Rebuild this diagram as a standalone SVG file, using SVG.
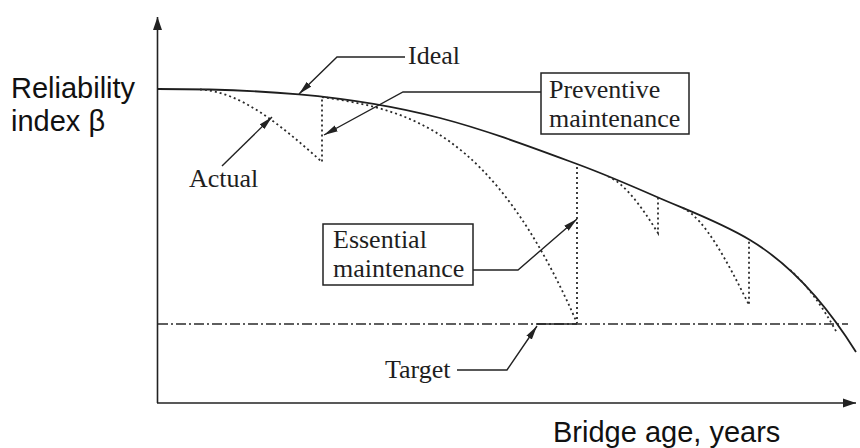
<svg xmlns="http://www.w3.org/2000/svg" width="860" height="448" viewBox="0 0 860 448">
  <style>
    .ser { font-family: "Liberation Serif", "Times New Roman", serif; font-size: 26px; fill: #1e1e1e; }
    .sans { font-family: "Liberation Sans", Arial, sans-serif; font-size: 29px; fill: #111; }
    .axis { stroke: #222; stroke-width: 1.6; fill: none; }
    .ideal { stroke: #1e1e1e; stroke-width: 1.8; fill: none; }
    .dot { stroke: #2a2a2a; stroke-width: 1.8; fill: none; stroke-dasharray: 2 3; }
    .target { stroke: #2a2a2a; stroke-width: 1.6; fill: none; stroke-dasharray: 10 3 2 3; }
    .lead { stroke: #222; stroke-width: 1.4; fill: none; }
    .box { stroke: #222; stroke-width: 1.5; fill: #fff; }
  </style>
  <defs>
    <marker id="ah" markerUnits="userSpaceOnUse" markerWidth="15" markerHeight="8" refX="14" refY="4" orient="auto">
      <path d="M0,0.7 L14,4 L0,7.3 Z" fill="#222"/>
    </marker>
    <marker id="axh" markerUnits="userSpaceOnUse" markerWidth="14" markerHeight="12" refX="13" refY="6" orient="auto">
      <path d="M0,1.5 L13,6 L0,10.5 Z" fill="#222"/>
    </marker>
  </defs>

  <g id="axes">
    <line class="axis" x1="157.5" y1="403" x2="157.5" y2="17" marker-end="url(#axh)"/>
    <line class="axis" x1="157" y1="403" x2="856" y2="403" marker-end="url(#axh)"/>
  </g>

  <g id="target-line">
    <line class="target" x1="158" y1="324" x2="848" y2="324"/>
  </g>

  <g id="ideal-curve">
    <path class="ideal" d="M158,89 C252,89 346,93.6 440,118 C485.7,129.9 531.3,147.1 577,164 C603.7,173.9 630.3,185.3 657,197 C688,210.6 719,221.4 750,240 C785.3,261.2 820.7,295.5 856,352"/>
  </g>

  <g id="actual-curve">
    <path class="dot" d="M200,89.5 C240.7,91.5 281.3,125.4 322,162 L322,97"/>
    <path class="dot" d="M322,97 C407,109.75 492,127.5 577,323 L577,164"/>
    <path class="dot" d="M608,176.5 C624.7,183.2 641.3,206.3 658,233 L658,197"/>
    <path class="dot" d="M683,208 C705,219 727,261 749,305 L749,240"/>
    <path class="dot" d="M790,270 C806,283.6 822,305.2 837,333"/>
  </g>

  <g id="connectors">
    <polyline class="lead" points="405,57 337,57 299,94" marker-end="url(#ah)"/>
    <polyline class="lead" points="541,92 403,92 324,135" marker-end="url(#ah)"/>
    <polyline class="lead" points="222,166 272,117" marker-end="url(#ah)"/>
    <polyline class="lead" points="473,270 518,270 577,219" marker-end="url(#ah)"/>
    <polyline class="lead" points="457,370 507,370 537,326" marker-end="url(#ah)"/>
    <line class="lead" x1="537" y1="324" x2="577" y2="324"/>
  </g>

  <g id="label-ideal">
    <text class="ser" x="408" y="64">Ideal</text>
  </g>
  <g id="label-actual">
    <text class="ser" x="189" y="187">Actual</text>
  </g>
  <g id="node-preventive">
    <rect class="box" x="541" y="73" width="148" height="61"/>
    <text class="ser" x="549" y="98">Preventive</text>
    <text class="ser" x="549" y="127">maintenance</text>
  </g>
  <g id="node-essential">
    <rect class="box" x="323" y="224" width="150" height="61"/>
    <text class="ser" x="333" y="248">Essential</text>
    <text class="ser" x="333" y="277">maintenance</text>
  </g>
  <g id="label-target">
    <text class="ser" x="385" y="378">Target</text>
  </g>
  <g id="label-y-axis">
    <text class="sans" x="11" y="98">Reliability</text>
    <text class="sans" x="11" y="131">index β</text>
  </g>
  <g id="label-x-axis">
    <text class="sans" x="553" y="442">Bridge age, years</text>
  </g>
</svg>
